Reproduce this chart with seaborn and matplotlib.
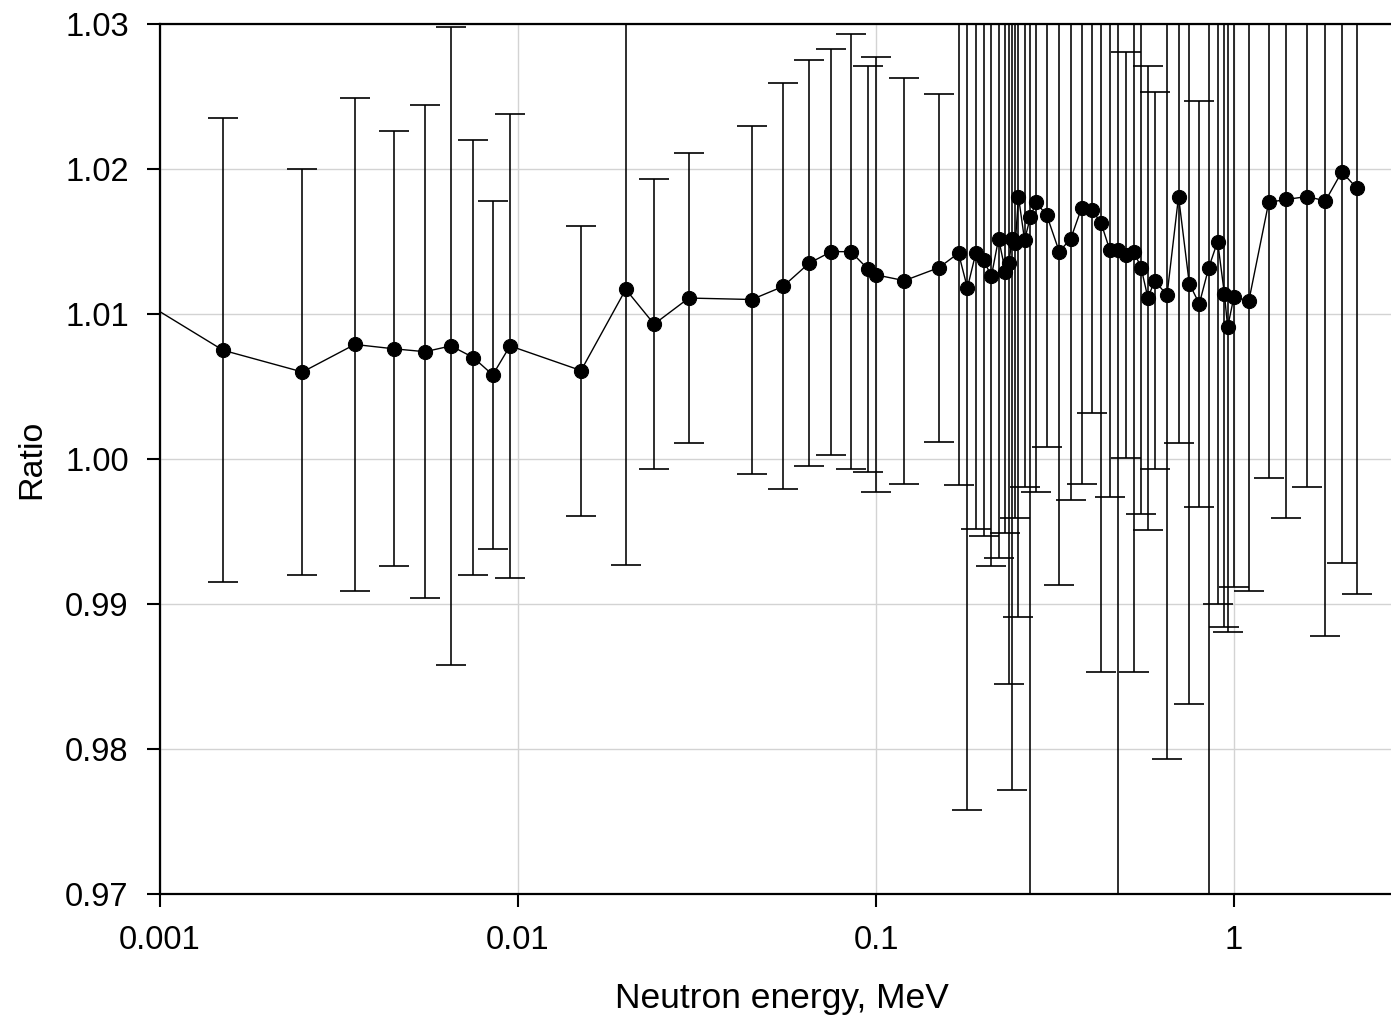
import numpy as np
import pandas as pd
import matplotlib
matplotlib.use("Agg")
import matplotlib.pyplot as plt
import seaborn as sns
from matplotlib.ticker import FixedLocator, FixedFormatter, NullLocator

# ---- data ----
energy = [0.0005, 0.0015, 0.0025, 0.0035, 0.0045, 0.0055, 0.0065, 0.0075, 0.0085, 0.0095,
          0.015, 0.020, 0.024, 0.030, 0.045, 0.055, 0.065, 0.075, 0.085, 0.095,
          0.100, 0.120, 0.150, 0.170, 0.180, 0.190, 0.200, 0.210, 0.220, 0.230,
          0.235, 0.240, 0.245, 0.250, 0.260, 0.270, 0.280, 0.300, 0.325, 0.350,
          0.375, 0.400, 0.425, 0.450, 0.475, 0.500, 0.525, 0.550, 0.575, 0.600,
          0.650, 0.700, 0.750, 0.800, 0.850, 0.900, 0.940, 0.960, 1.000, 1.100,
          1.250, 1.400, 1.600, 1.800, 2.000, 2.200]
ratio = [1.0147, 1.0075, 1.0060, 1.0079, 1.0076, 1.0074, 1.0078, 1.0070, 1.0058, 1.0078,
         1.0061, 1.0117, 1.0093, 1.0111, 1.0110, 1.0119, 1.0135, 1.0143, 1.0143, 1.0131,
         1.0127, 1.0123, 1.0132, 1.0142, 1.0118, 1.0142, 1.0137, 1.0126, 1.0152, 1.0129,
         1.0135, 1.0152, 1.0149, 1.0181, 1.0151, 1.0167, 1.0177, 1.0168, 1.0143, 1.0152,
         1.0173, 1.0172, 1.0163, 1.0144, 1.0144, 1.0141, 1.0143, 1.0132, 1.0111, 1.0123,
         1.0113, 1.0181, 1.0121, 1.0107, 1.0132, 1.0150, 1.0114, 1.0091, 1.0112, 1.0109,
         1.0177, 1.0179, 1.0181, 1.0178, 1.0198, 1.0187]
ratio_err = [0.016, 0.016, 0.014, 0.017, 0.015, 0.017, 0.022, 0.015, 0.012, 0.016,
             0.010, 0.019, 0.010, 0.010, 0.012, 0.014, 0.014, 0.014, 0.015, 0.014,
             0.015, 0.014, 0.012, 0.016, 0.036, 0.019, 0.019, 0.020, 0.022, 0.018,
             0.029, 0.038, 0.019, 0.029, 0.017, 0.050, 0.020, 0.016, 0.023, 0.018,
             0.019, 0.014, 0.031, 0.017, 0.050, 0.014, 0.029, 0.017, 0.016, 0.013,
             0.032, 0.017, 0.029, 0.014, 0.050, 0.025, 0.023, 0.021, 0.020, 0.020,
             0.019, 0.022, 0.020, 0.030, 0.027, 0.028]

x_ticks = [0.001, 0.01, 0.1, 1]
x_tick_labels = ["0.001", "0.01", "0.1", "1"]
y_ticks = [0.97, 0.98, 0.99, 1.00, 1.01, 1.02, 1.03]
y_tick_labels = ["0.97", "0.98", "0.99", "1.00", "1.01", "1.02", "1.03"]
x_label = "Neutron energy, MeV"
y_label = "Ratio"

# ---- style ----
sns.set_theme(style="white")
plt.rcParams['font.family'] = ['Liberation Sans', 'DejaVu Sans']

W, H = 1391, 1024
fig = plt.figure(figsize=(W / 100, H / 100), dpi=100)
ax = fig.add_axes([160 / W, 130 / H, (W - 160) / W, 870 / H])
ax.set_xscale('log')

df = pd.DataFrame({'energy': energy, 'ratio': ratio, 'err': ratio_err})

ax.errorbar(df['energy'], df['ratio'], yerr=df['err'], fmt='none',
            ecolor='black', elinewidth=1.15, capsize=11, capthick=1.2, zorder=2)
sns.lineplot(data=df, x='energy', y='ratio', color='black', linewidth=1.0,
             marker='o', markersize=10.2, markeredgecolor='black',
             markerfacecolor='black', estimator=None, ax=ax, zorder=3)

ax.set_xlim(0.001, 2.745)
ax.set_ylim(0.97, 1.03)

ax.xaxis.set_major_locator(FixedLocator(x_ticks))
ax.xaxis.set_major_formatter(FixedFormatter(x_tick_labels))
ax.xaxis.set_minor_locator(NullLocator())
ax.yaxis.set_major_locator(FixedLocator(y_ticks))
ax.yaxis.set_major_formatter(FixedFormatter(y_tick_labels))

ax.grid(True, which='major', color='#d3d3d3', linewidth=1.0)
ax.set_axisbelow(True)

for side in ['top', 'bottom', 'left']:
    ax.spines[side].set_visible(True)
    ax.spines[side].set_color('black')
    ax.spines[side].set_linewidth(1.6)
ax.spines['right'].set_visible(False)

ax.tick_params(axis='both', which='major', direction='out', length=9.5, width=1.5,
               labelsize=23.5, pad=13, colors='black', bottom=True, left=True)

ax.set_xlabel(x_label, fontsize=25.5, color='black')
ax.set_ylabel(y_label, fontsize=24.5, color='black')
ax.xaxis.set_label_coords((782 - 160) / (W - 160), (42 - 130) / 870)
ax.yaxis.set_label_coords((47 - 160) / (W - 160), 0.5)

fig.savefig("out.png", dpi=100)
